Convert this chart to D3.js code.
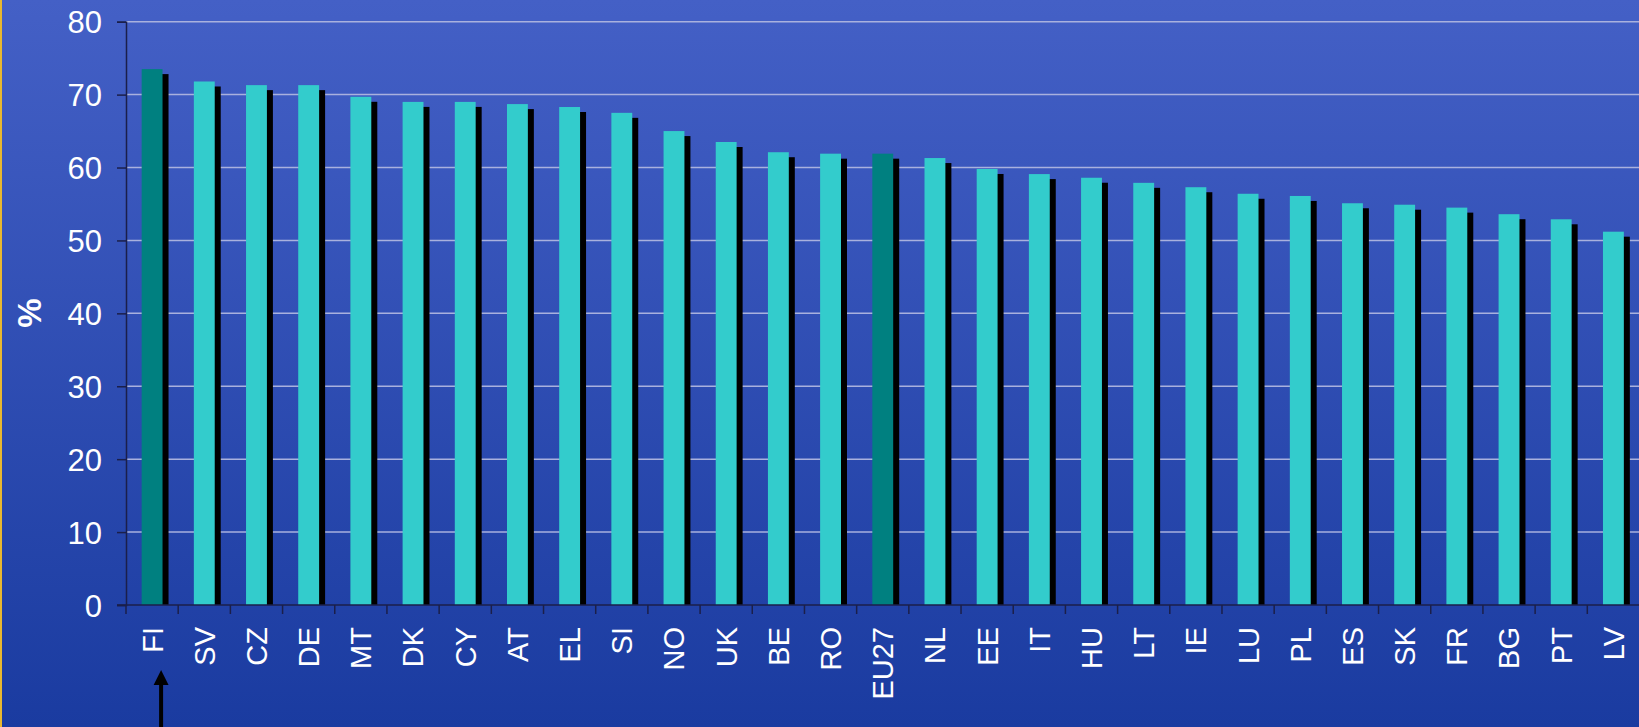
<!DOCTYPE html>
<html>
<head>
<meta charset="utf-8">
<script src="https://cdn.jsdelivr.net/npm/d3@7"></script>
<style>
body { margin: 0; overflow: hidden; }
text { font-family: "Liberation Sans", Arial, sans-serif; fill: #fff; }
</style>
</head>
<body>
<svg width="1639" height="727" id="content"></svg>
<script>
var countries = ["FI","SV","CZ","DE","MT","DK","CY","AT","EL","SI","NO","UK","BE","RO","EU27",
	"NL","EE","IT","HU","LT","IE","LU","PL","ES","SK","FR","BG","PT","LV"];
var values = [73.5,71.8,71.3,71.3,69.7,69.0,69.0,68.7,68.3,67.5,65.0,63.5,62.1,61.9,61.9,
	61.3,59.8,59.1,58.6,57.9,57.3,56.4,56.1,55.1,54.9,54.5,53.6,52.9,51.2];
var highlighted = ["FI","EU27"];
var yTicks = [0,10,20,30,40,50,60,70,80];
var yTitle = "%";

var svg = d3.select("svg");
var width = +svg.attr("width");
var height = +svg.attr("height");

// background gradient
var grad = svg.append("defs").append("linearGradient")
	.attr("id", "bg").attr("x1", 0).attr("y1", 0).attr("x2", 0).attr("y2", 1);
grad.append("stop").attr("offset", "0%").attr("stop-color", "#4460c6");
grad.append("stop").attr("offset", "100%").attr("stop-color", "#1a3ba0");
svg.append("rect").attr("width", width).attr("height", height).attr("fill", "url(#bg)");
svg.append("rect").attr("width", 2).attr("height", height).attr("fill", "#e8b830");

var x = d3.scaleBand()
	.domain(countries)
	.range([126, 1639.5])
	.padding(0);

var y = d3.scaleLinear()
	.domain([0, 80])
	.range([605, 21.7]);

var barW = x.bandwidth() * 0.4;
var shadowDx = 6, shadowDy = 5;

// grid
svg.append("g").selectAll("line")
	.data(yTicks.filter(function(d) { return d > 0; }))
	.enter().append("line")
	.attr("x1", 126).attr("x2", width)
	.attr("y1", function(d) { return y(d); })
	.attr("y2", function(d) { return y(d); })
	.attr("stroke", "#a9b1de")
	.attr("stroke-width", 1.5);

var bars = svg.append("g").selectAll("g")
	.data(countries)
	.enter().append("g");

// shadow behind each bar
bars.append("rect")
	.attr("x", function(d) { return x(d) + (x.bandwidth() - barW) / 2 + shadowDx; })
	.attr("y", function(d, i) { return y(values[i]) + shadowDy; })
	.attr("width", barW)
	.attr("height", function(d, i) { return y(0) - y(values[i]) - shadowDy; })
	.attr("fill", "#000");

bars.append("rect")
	.attr("x", function(d) { return x(d) + (x.bandwidth() - barW) / 2; })
	.attr("y", function(d, i) { return y(values[i]); })
	.attr("width", barW)
	.attr("height", function(d, i) { return y(0) - y(values[i]); })
	.attr("fill", function(d) { return highlighted.indexOf(d) >= 0 ? "#008080" : "#33cccc"; });

// y axis
var yAxis = svg.append("g")
	.attr("transform", "translate(126,0)")
	.call(d3.axisLeft(y).tickValues(yTicks).tickSize(9).tickPadding(15));
yAxis.select(".domain").attr("stroke", "#1b1f4a").attr("stroke-width", 1.5);
yAxis.selectAll(".tick line").attr("stroke", "#1b1f4a").attr("stroke-width", 1.5);
yAxis.selectAll(".tick text")
	.attr("fill", "#fff")
	.style("font-size", "31px")
	.style("font-family", "'Liberation Sans', Arial, sans-serif")
	.attr("dy", "0.36em");

// x axis: ticks between categories
var xAxis = svg.append("g").attr("transform", "translate(0," + y(0) + ")");
xAxis.append("line")
	.attr("x1", 117).attr("x2", width)
	.attr("stroke", "#1b1f4a").attr("stroke-width", 1.5);
xAxis.selectAll(".sep")
	.data(countries)
	.enter().append("line")
	.attr("class", "sep")
	.attr("x1", function(d) { return x(d); })
	.attr("x2", function(d) { return x(d); })
	.attr("y1", 0).attr("y2", 9)
	.attr("stroke", "#1b1f4a").attr("stroke-width", 1.5);
xAxis.selectAll(".lbl")
	.data(countries)
	.enter().append("text")
	.attr("class", "lbl")
	.attr("transform", function(d) { return "translate(" + (x(d) + x.bandwidth() / 2) + ",22) rotate(-90)"; })
	.attr("dy", "0.36em")
	.style("text-anchor", "end")
	.style("font-size", "29px")
	.text(function(d) { return d; });

// y title
svg.append("text")
	.attr("transform", "translate(29,313) rotate(-90)")
	.attr("dy", "0.36em")
	.style("text-anchor", "middle")
	.style("font-size", "33px")
	.style("font-weight", "bold")
	.text(yTitle);

// arrow under FI
var ax = x("FI") + x.bandwidth() / 2 + 9;
svg.append("line")
	.attr("x1", ax).attr("x2", ax)
	.attr("y1", 684).attr("y2", height)
	.attr("stroke", "#000").attr("stroke-width", 4);
svg.append("path")
	.attr("d", "M" + ax + ",670L" + (ax - 7.5) + ",685L" + (ax + 7.5) + ",685Z")
	.attr("fill", "#000");
</script>
</body>
</html>
